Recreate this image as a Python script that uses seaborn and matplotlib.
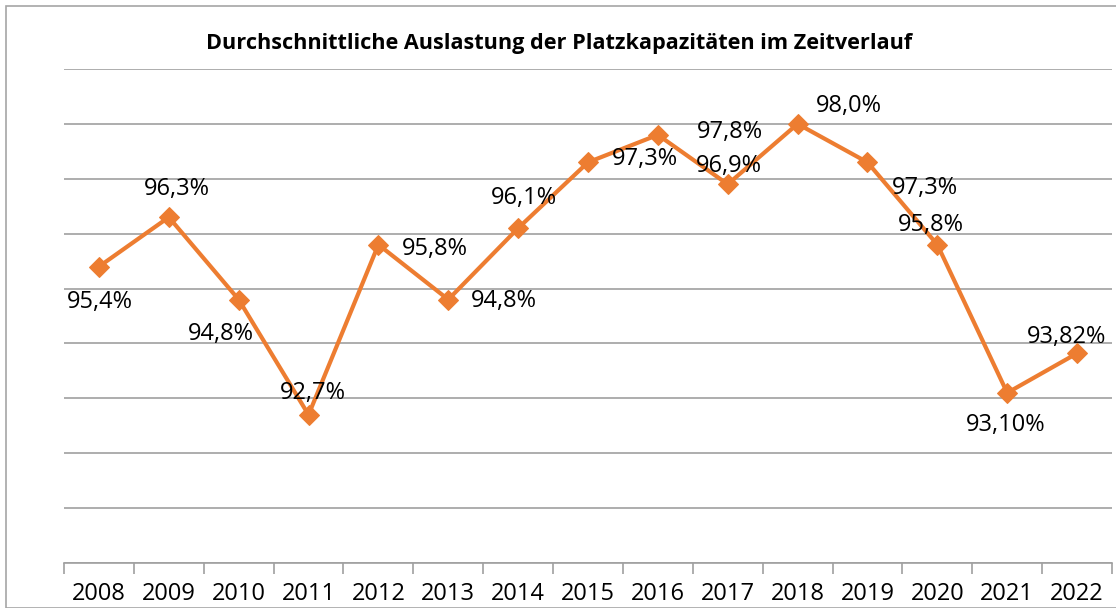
import matplotlib
matplotlib.use("Agg")
import matplotlib.pyplot as plt
import seaborn as sns
import pandas as pd
from matplotlib.patches import Rectangle
from matplotlib.ticker import MultipleLocator, FixedLocator

years = ["2008", "2009", "2010", "2011", "2012", "2013", "2014", "2015",
         "2016", "2017", "2018", "2019", "2020", "2021", "2022"]
values = [95.4, 96.3, 94.8, 92.7, 95.8, 94.8, 96.1, 97.3,
          97.8, 96.9, 98.0, 97.3, 95.8, 93.10, 93.82]
labels = ["95,4%", "96,3%", "94,8%", "92,7%", "95,8%", "94,8%", "96,1%", "97,3%",
          "97,8%", "96,9%", "98,0%", "97,3%", "95,8%", "93,10%", "93,82%"]
title = "Durchschnittliche Auslastung der Platzkapazitäten im Zeitverlauf"

# label offsets in pixels (dx right, dy down in image)
label_offsets = [(1, 34), (8, -29), (-18, 33), (4, -23), (56, 3), (56, 0), (6, -31),
                 (57, -4), (72, -4), (1, -19), (51, -19), (57, 25), (-6, -21),
                 (-2, 31), (-11, -17)]

sns.set_theme(style="white")
plt.rcParams["font.family"] = ["Open Sans", "DejaVu Sans"]

W, H = 1116, 608
fig = plt.figure(figsize=(W / 100, H / 100), dpi=100)
ax = fig.add_axes([64 / W, 1 - 563 / H, (1112 - 64) / W, (563 - 69) / H])

df = pd.DataFrame({"year": years, "value": values})
orange = "#ED7D31"
sns.lineplot(data=df, x="year", y="value", ax=ax, color=orange, linewidth=3,
             marker="D", markersize=10, markeredgecolor=orange, sort=False)

ax.set_xlim(-0.5, len(years) - 0.5)
ax.set_ylim(90, 99)
ax.yaxis.set_major_locator(MultipleLocator(1))
ax.set_yticklabels([])
ax.tick_params(axis="y", length=0)
ax.grid(axis="y", color="#A0A0A0", linewidth=1.2)
ax.grid(axis="x", visible=False)
ax.set_axisbelow(True)

for s in ["left", "right", "top"]:
    ax.spines[s].set_visible(False)
ax.spines["bottom"].set_color("#A0A0A0")
ax.spines["bottom"].set_linewidth(1.2)

ax.xaxis.set_minor_locator(FixedLocator([i - 0.5 for i in range(len(years) + 1)]))
ax.tick_params(axis="x", which="major", length=0, labelsize=17, pad=14,
               labelcolor="black")
ax.tick_params(axis="x", which="minor", length=8, width=1.2, color="#A0A0A0",
               direction="out", bottom=True)
ax.set_xlabel("")
ax.set_ylabel("")

for i, (lab, (dx, dy)) in enumerate(zip(labels, label_offsets)):
    ax.annotate(lab, xy=(i, values[i]), xytext=(dx, -dy - 1), textcoords="offset pixels",
                ha="center", va="center", fontsize=17, color="black")

fig.text(559 / W, 1 - 44 / H, title, ha="center", va="center",
         fontsize=15.6, fontweight="bold", color="black")

fig.patches.append(Rectangle((6 / W, 0.5 / H), 1.2, 1 - 5.5 / H - 0.5 / H,
                             transform=fig.transFigure, fill=False,
                             edgecolor="#A6A6A6", linewidth=1.2))

fig.savefig("out.png", dpi=100)
